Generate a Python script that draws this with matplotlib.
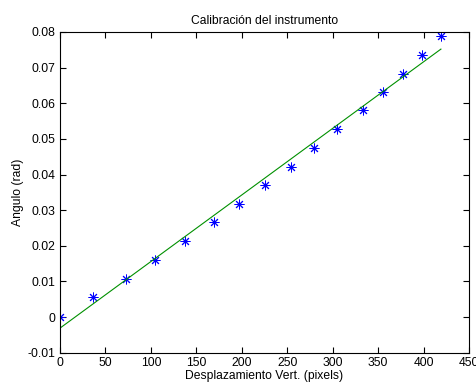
import matplotlib
matplotlib.use("Agg")
import matplotlib.pyplot as plt

# Data
desplazamiento = [0, 36.7, 72.6, 104.2, 137.9, 169.4, 197.3, 225.5, 254.1,
                  279.8, 304.4, 333.7, 355.0, 377.0, 398.6, 419.1]
angulo = [0.0, 0.0056, 0.0107, 0.0160, 0.0213, 0.0266, 0.0317, 0.0370,
          0.0421, 0.0475, 0.0528, 0.0580, 0.0632, 0.0682, 0.0735, 0.0789]
fit_x = [0, 419.1]
fit_y = [-0.0031, 0.0752]

xticks = [0, 50, 100, 150, 200, 250, 300, 350, 400, 450]
yticks = [-0.01, 0, 0.01, 0.02, 0.03, 0.04, 0.05, 0.06, 0.07, 0.08]
ytick_labels = ["-0.01", "0", "0.01", "0.02", "0.03", "0.04", "0.05", "0.06", "0.07", "0.08"]

plt.rcParams['font.family'] = ['Liberation Sans', 'DejaVu Sans']

fig = plt.figure(figsize=(4.77, 3.87), dpi=100)
ax = fig.add_axes([60/477, 1 - 352.7/387, (469 - 60)/477, (352.7 - 32)/387])

ax.plot(desplazamiento, angulo, linestyle='none', marker=(8, 2, 0),
        markersize=7, markeredgewidth=0.7, color='#0000ff')
ax.plot(fit_x, fit_y, color='#009000', linewidth=0.8)

ax.set_xlim(0, 450)
ax.set_ylim(-0.01, 0.08)
ax.set_xticks(xticks)
ax.set_yticks(yticks)
ax.set_yticklabels(ytick_labels)
ax.tick_params(direction='in', length=4, width=0.8, top=True, right=True,
               labelsize=8.7, pad=3, colors='black')
for s in ax.spines.values():
    s.set_linewidth(0.8)

ax.set_title("Calibración del instrumento", fontsize=8.7, pad=6)
ax.set_xlabel("Desplazamiento Vert. (pixels)", fontsize=8.7, labelpad=1)
ax.set_ylabel("Angulo (rad)", fontsize=8.7, labelpad=3)

fig.savefig("out.png", dpi=100)
